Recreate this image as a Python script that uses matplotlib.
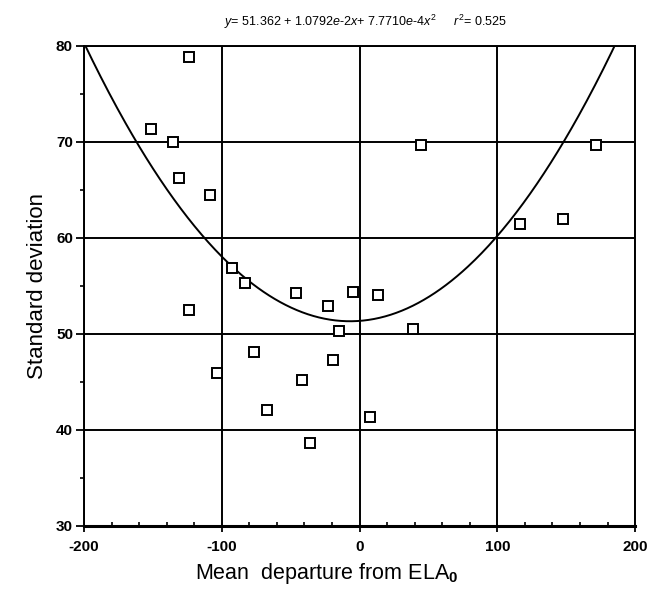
import numpy as np
import matplotlib
matplotlib.use("Agg")
import matplotlib.pyplot as plt
from matplotlib.ticker import MultipleLocator

plt.rcParams['font.family'] = ['Liberation Sans', 'DejaVu Sans']
plt.rcParams['mathtext.fontset'] = 'custom'
plt.rcParams['mathtext.rm'] = 'Liberation Sans'
plt.rcParams['mathtext.it'] = 'Liberation Sans:italic'
plt.rcParams['mathtext.bf'] = 'Liberation Sans:bold'
plt.rcParams['axes.unicode_minus'] = False

# Data
mean_departure = [-123.6, -151.7, -135.1, -130.8, -108.7, -92.4, -83.5, -46.5,
                  -23.2, -4.5, 13.4, -123.8, -14.6, -77.0, -19.5, -103.6,
                  -41.5, -67.0, 7.3, -36.0, 44.4, 172.0, 116.8, 147.7, 38.5]
std_dev = [78.8, 71.4, 70.0, 66.2, 64.5, 56.9, 55.3, 54.3,
           52.9, 54.4, 54.1, 52.5, 50.3, 48.1, 47.3, 45.9,
           45.2, 42.1, 41.3, 38.6, 69.7, 69.7, 61.5, 62.0, 50.5]

# Quadratic fit coefficients (from the equation in the title)
c0, c1, c2 = 51.362, 1.0792e-2, 7.7710e-4

x_ticks = [-200, -100, 0, 100, 200]
y_ticks = [30, 40, 50, 60, 70, 80]

fig = plt.figure(figsize=(6.52, 5.89), dpi=100)
ax = fig.add_axes([0.129, 0.107, 0.845, 0.815])

xs = np.linspace(-200, 200, 400)
ax.plot(xs, c0 + c1 * xs + c2 * xs ** 2, color='black', lw=1.4, zorder=3)
ax.plot(mean_departure, std_dev, linestyle='none', marker='s', markersize=7.5,
        markerfacecolor='white', markeredgecolor='black', markeredgewidth=1.4, zorder=4)

ax.set_xlim(-200, 200)
ax.set_ylim(30, 80)
ax.set_xticks(x_ticks)
ax.set_yticks(y_ticks)
ax.xaxis.set_minor_locator(MultipleLocator(20))
ax.yaxis.set_minor_locator(MultipleLocator(5))
ax.grid(True, which='major', color='black', lw=1.4)
ax.set_axisbelow(True)

for s in ax.spines.values():
    s.set_linewidth(1.4)
ax.spines['bottom'].set_linewidth(2.2)

ax.tick_params(axis='y', which='major', direction='out', length=6, width=1.3,
               labelsize=11, pad=2)
ax.tick_params(axis='y', which='minor', direction='out', length=3, width=1.2)
ax.tick_params(axis='x', which='major', direction='out', length=4, width=1.3,
               labelsize=11, pad=6)
ax.tick_params(axis='x', which='minor', direction='in', length=3, width=1.2)
for lab in ax.get_xticklabels() + ax.get_yticklabels():
    lab.set_fontweight('bold')

ax.set_xlabel(r'Mean  departure from ELA$_{\mathbf{0}}$', fontsize=15.5)
ax.xaxis.set_label_coords(0.44, -0.072)
ax.set_ylabel('Standard deviation', fontsize=16, labelpad=6)

fig.text(0.56, 0.962,
         r'$y$= 51.362 + 1.0792$e$-2$x$+ 7.7710$e$-4$x^2$     $r^2$= 0.525',
         ha='center', va='center', fontsize=9)

fig.savefig('out.png', dpi=100, facecolor='white')
